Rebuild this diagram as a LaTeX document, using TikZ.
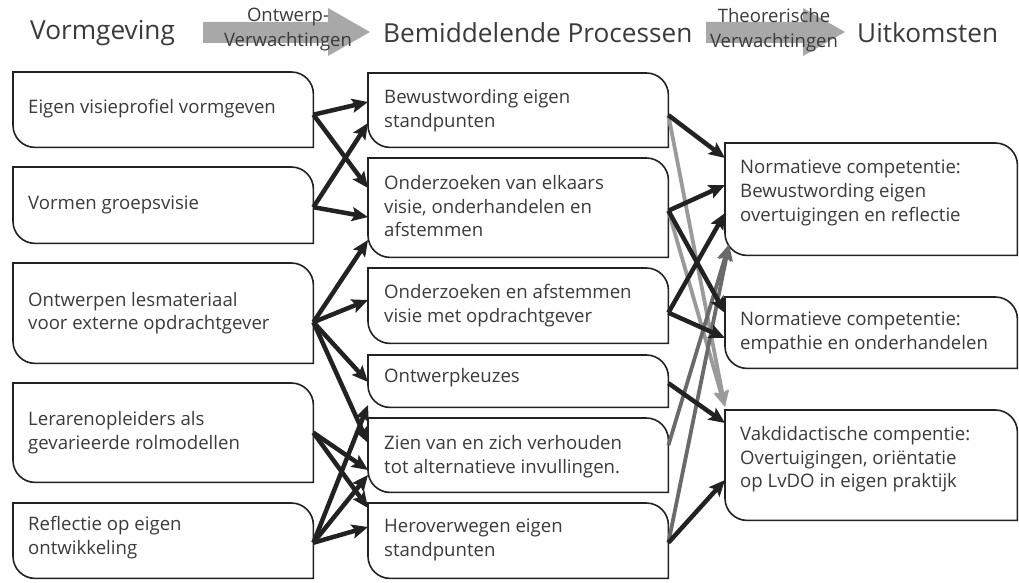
\documentclass[tikz,border=0pt]{standalone}
\usepackage{fontspec}
\setmainfont{Open Sans}
\usetikzlibrary{arrows.meta}
\definecolor{txtc}{HTML}{3A3A3A}
\definecolor{linec}{HTML}{222222}
\definecolor{hdrgray}{HTML}{A8A8A8}
\definecolor{lgray}{HTML}{9A9A9A}
\definecolor{dgray}{HTML}{6A6A6A}
\newcommand\boxoutline[1]{%
  \draw[outl] (#1.north west) -- ([xshift=-22pt]#1.north east)
    .. controls ([xshift=-9.9pt]#1.north east) and ([yshift=-9.9pt]#1.north east) .. ([yshift=-22pt]#1.north east)
    -- (#1.south east) -- ([xshift=22pt]#1.south west)
    .. controls ([xshift=9.9pt]#1.south west) and ([yshift=9.9pt]#1.south west) .. ([yshift=22pt]#1.south west)
    -- cycle;}
\begin{document}
\begin{tikzpicture}[x=1pt,y=-1pt,
  boxn/.style={draw=none, rectangle, inner sep=0pt, anchor=north west},
  outl/.style={draw=linec, line width=1.6pt},
  txt/.style={font=\fontsize{18.6}{23.8}\selectfont, align=left, inner sep=0pt, text=txtc},
  hdr/.style={font=\fontsize{26.2}{30}\selectfont, inner sep=0pt, text=txtc, anchor=west},
  atxt/.style={font=\fontsize{18.5}{25}\selectfont, align=center, inner sep=0pt, text=txtc},
  conn/.style={draw=linec, line width=4.5pt, -{Stealth[length=16pt,width=14pt,inset=3pt]}},
  connl/.style={draw=lgray, line width=3.8pt, -{Stealth[length=16pt,width=14pt,inset=3pt]}},
  connd/.style={draw=dgray, line width=3.8pt, -{Stealth[length=16pt,width=14pt,inset=3pt]}},
]
\useasboundingbox (0,0) rectangle (1019,583);

% header
\node[hdr] (H1) at (30,33) {Vormgeving};
\node[hdr] (H2) at (383,33) {Bemiddelende Processen};
\node[hdr] (H3) at (857,33) {Uitkomsten};
\fill[hdrgray] (203,22) -- (328,22) -- (328,8) -- (370,32) -- (328,56) -- (328,43) -- (203,43) -- cycle;
\fill[hdrgray] (706,22) -- (803,22) -- (803,8) -- (845,32) -- (803,56) -- (803,43) -- (706,43) -- cycle;
\node[atxt] (A1) at (288,30) {Ontwerp-\\Verwachtingen};
\node[atxt] (A2) at (774,30) {Theorerische\\Verwachtingen};

% left boxes
\node[boxn, minimum width=300pt, minimum height=75pt] (L1) at (13,72) {};
\node[boxn, minimum width=300pt, minimum height=76pt] (L2) at (13,167) {};
\node[boxn, minimum width=300pt, minimum height=100pt] (L3) at (13,263) {};
\node[boxn, minimum width=300pt, minimum height=99pt] (L4) at (13,383) {};
\node[boxn, minimum width=300pt, minimum height=75pt] (L5) at (13,503) {};
\foreach \n in {L1,L2,L3,L4,L5} {\boxoutline{\n}}
\node[txt, anchor=west] (L1t) at ([xshift=15pt,yshift=1pt]L1.west) {Eigen visieprofiel vormgeven};
\node[txt, anchor=west] (L2t) at ([xshift=15pt]L2.west) {Vormen groepsvisie};
\node[txt, anchor=west] (L3t) at ([xshift=15pt]L3.west) {Ontwerpen lesmateriaal\\voor externe opdrachtgever};
\node[txt, anchor=west] (L4t) at ([xshift=15pt]L4.west) {Lerarenopleiders als\\gevarieerde rolmodellen};
\node[txt, anchor=west] (L5t) at ([xshift=15pt,yshift=3pt]L5.west) {Reflectie op eigen\\ontwikkeling};

% middle boxes
\node[boxn, minimum width=300pt, minimum height=74pt] (M1) at (368,73) {};
\node[boxn, minimum width=300pt, minimum height=99pt] (M2) at (368,158) {};
\node[boxn, minimum width=300pt, minimum height=75pt] (M3) at (368,268) {};
\node[boxn, minimum width=300pt, minimum height=52pt] (M4) at (368,355) {};
\node[boxn, minimum width=300pt, minimum height=74pt] (M5) at (368,418) {};
\node[boxn, minimum width=300pt, minimum height=75pt] (M6) at (368,503) {};
\foreach \n in {M1,M2,M3,M4,M5,M6} {\boxoutline{\n}}
\node[txt, anchor=north west] (M1t) at ([xshift=16pt,yshift=-16pt]M1.north west) {Bewustwording eigen\\standpunten};
\node[txt, anchor=north west] (M2t) at ([xshift=16pt,yshift=-17pt]M2.north west) {Onderzoeken van elkaars\\visie, onderhandelen en\\afstemmen};
\node[txt, anchor=north west] (M3t) at ([xshift=16pt,yshift=-16pt]M3.north west) {Onderzoeken en afstemmen\\visie met opdrachtgever};
\node[txt, anchor=north west] (M4t) at ([xshift=16pt,yshift=-13pt]M4.north west) {Ontwerpkeuzes};
\node[txt, anchor=north west] (M5t) at ([xshift=16pt,yshift=-17pt]M5.north west) {Zien van en zich verhouden\\tot alternatieve invullingen.};
\node[txt, anchor=north west] (M6t) at ([xshift=16pt,yshift=-16pt]M6.north west) {Heroverwegen eigen\\standpunten};

% right boxes
\node[boxn, minimum width=292pt, minimum height=112pt] (R1) at (725,143) {};
\node[boxn, minimum width=292pt, minimum height=71pt] (R2) at (725,297) {};
\node[boxn, minimum width=292pt, minimum height=110pt] (R3) at (725,410) {};
\foreach \n in {R1,R2,R3} {\boxoutline{\n}}
\node[txt, anchor=north west] (R1t) at ([xshift=15pt,yshift=-17pt]R1.north west) {Normatieve competentie:\\Bewustwording eigen\\overtuigingen en reflectie};
\node[txt, anchor=north west] (R2t) at ([xshift=15pt,yshift=-15pt]R2.north west) {Normatieve competentie:\\empathie en onderhandelen};
\node[txt, anchor=north west] (R3t) at ([xshift=15pt,yshift=-16pt]R3.north west) {Vakdidactische compentie:\\Overtuigingen, oriëntatie\\op LvDO in eigen praktijk};

% gray connectors (behind)
\draw[connl] ([yshift=-5pt]M1.east) -- ([yshift=3pt]R3.north west);
\draw[connl] ([yshift=-3pt]M2.east) -- ([yshift=3pt]R3.north west);
\draw[connd] ([yshift=10pt]M5.east) -- ([xshift=4pt,yshift=11pt]R1.south west);
\draw[connd] ([yshift=-2pt]M6.east) -- ([xshift=4pt,yshift=11pt]R1.south west);

% left -> middle
\draw[conn] ([yshift=-5pt]L1.east) -- ([yshift=-29pt]M1.north west);
\draw[conn] ([yshift=-5pt]L1.east) -- ([yshift=-30pt]M2.north west);
\draw[conn] ([yshift=-2pt]L2.east) -- ([yshift=-50pt]M1.north west);
\draw[conn] ([yshift=-2pt]L2.east) -- ([yshift=-59pt]M2.north west);
\draw[conn] ([yshift=-9pt]L3.east) -- ([yshift=-82pt]M2.north west);
\draw[conn] ([yshift=-9pt]L3.east) -- ([yshift=-32pt]M3.north west);
\draw[conn] ([yshift=-9pt]L3.east) -- ([yshift=-27pt]M4.north west);
\draw[conn] ([yshift=-9pt]L3.east) -- ([yshift=-25pt]M5.north west);
\draw[conn] (L4.east) -- ([yshift=-52pt]M5.north west);
\draw[conn] (L4.east) -- ([yshift=-5pt]M6.north west);
\draw[conn] ([yshift=-2pt]L5.east) -- ([yshift=-50pt]M4.north west);
\draw[conn] ([yshift=-2pt]L5.east) -- ([yshift=-57pt]M5.north west);
\draw[conn] ([yshift=-2pt]L5.east) -- ([yshift=-24pt]M6.north west);

% middle -> right
\draw[conn] ([yshift=-5pt]M1.east) -- ([yshift=-15pt]R1.north west);
\draw[conn] ([yshift=-3pt]M2.east) -- ([yshift=-42pt]R1.north west);
\draw[conn] ([yshift=-7pt]M3.east) -- ([yshift=-70pt]R1.north west);
\draw[conn] ([yshift=-3pt]M2.east) -- ([yshift=-16pt]R2.north west);
\draw[conn] ([yshift=-7pt]M3.east) -- ([yshift=-41pt]R2.north west);
\draw[conn] ([yshift=-2pt]M4.east) -- ([yshift=-13pt]R3.north west);
\draw[conn] ([yshift=-2pt]M6.east) -- ([yshift=-70pt]R3.north west);
\end{tikzpicture}
\end{document}
